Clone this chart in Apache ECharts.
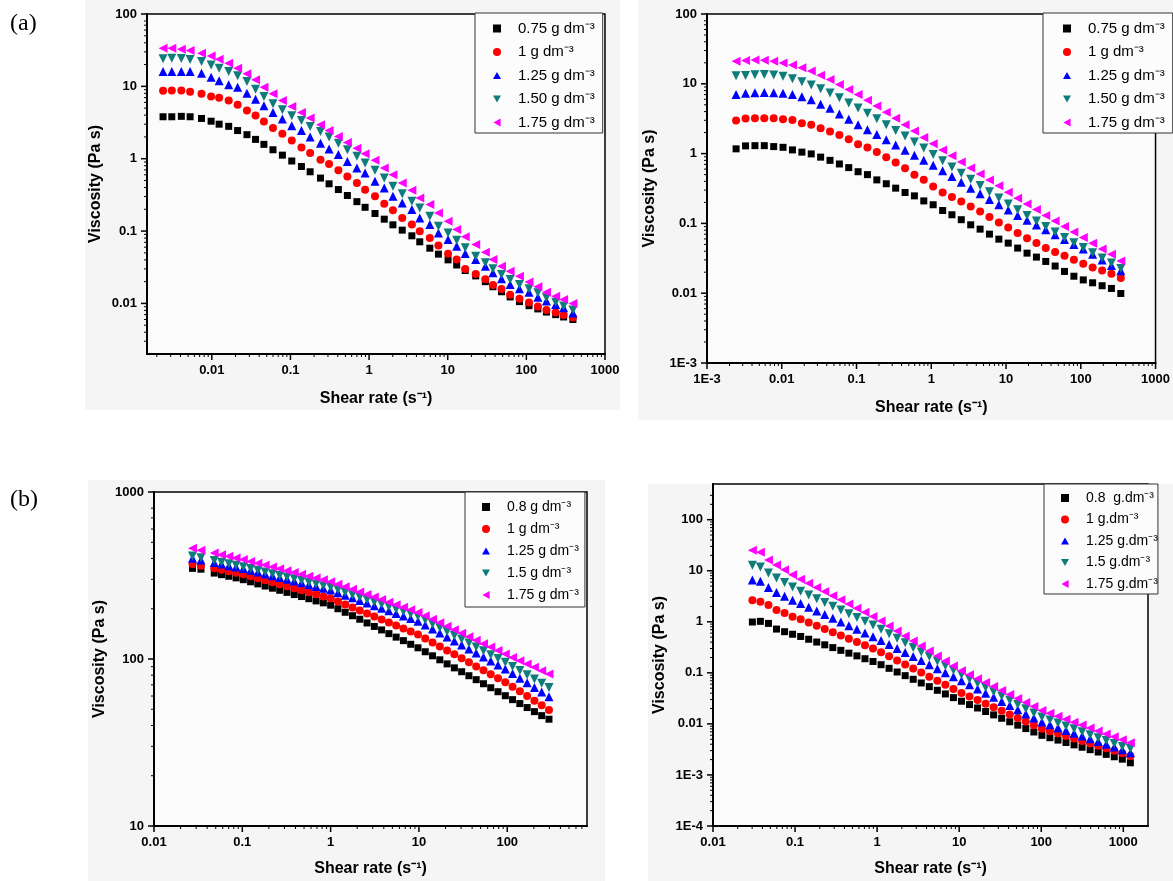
<!DOCTYPE html>
<html>
<head>
<meta charset="utf-8">
<title>Viscosity vs shear rate</title>
<script src="https://cdn.jsdelivr.net/npm/echarts@6.0.0/dist/echarts.min.js"></script>
<style>
  html, body { margin: 0; padding: 0; background: #fff; }
  #chart { width: 1173px; height: 881px; }
</style>
</head>
<body>
<div id="chart"></div>
<script>
// (a) left panel
const shearA1 = [0.0024, 0.0031, 0.0041, 0.0053, 0.0074, 0.0098, 0.0124, 0.0164, 0.0213, 0.028, 0.036, 0.046, 0.060, 0.079, 0.104, 0.138, 0.178, 0.241, 0.310, 0.407, 0.53, 0.70, 0.89, 1.19, 1.56, 2.01, 2.64, 3.50, 4.41, 5.92, 7.62, 10.1, 13.0, 16.7, 22.7, 30.1, 37.6, 48.3, 62.2, 81.7, 108, 140, 180, 236, 298, 391];
const viscA1_075 = [3.8, 3.8, 3.85, 3.8, 3.6, 3.3, 3.0, 2.8, 2.45, 2.15, 1.85, 1.58, 1.33, 1.12, 0.93, 0.78, 0.66, 0.54, 0.45, 0.375, 0.31, 0.255, 0.213, 0.175, 0.146, 0.122, 0.103, 0.086, 0.071, 0.058, 0.048, 0.040, 0.034, 0.0285, 0.024, 0.020, 0.017, 0.0145, 0.0123, 0.0106, 0.0093, 0.0084, 0.0076, 0.0070, 0.0065, 0.0060];
const viscA1_100 = [8.7, 8.75, 8.75, 8.4, 7.88, 7.25, 6.94, 6.38, 5.56, 4.64, 3.96, 3.27, 2.65, 2.21, 1.79, 1.43, 1.20, 0.969, 0.844, 0.69, 0.57, 0.461, 0.373, 0.302, 0.239, 0.194, 0.152, 0.123, 0.0995, 0.0805, 0.063, 0.0484, 0.0404, 0.030, 0.0255, 0.0215, 0.018, 0.0158, 0.0132, 0.0116, 0.0103, 0.0091, 0.0081, 0.0075, 0.0069, 0.0064];
const viscA1_125 = [16.0, 16.0, 16.0, 16.0, 15.2, 13.4, 12.0, 10.5, 9.75, 8.06, 6.66, 5.38, 4.36, 3.53, 2.85, 2.46, 1.99, 1.64, 1.36, 1.14, 0.918, 0.743, 0.634, 0.487, 0.394, 0.302, 0.245, 0.198, 0.152, 0.123, 0.0944, 0.0764, 0.0618, 0.049, 0.0404, 0.0327, 0.0265, 0.0219, 0.0183, 0.0159, 0.0143, 0.0122, 0.0108, 0.0097, 0.0087, 0.0074];
const viscA1_150 = [24.0, 24.5, 24.3, 23.5, 22.0, 19.8, 17.8, 16.0, 14.0, 11.7, 9.15, 7.25, 5.74, 4.74, 3.92, 3.38, 2.79, 2.38, 1.99, 1.64, 1.33, 1.08, 0.871, 0.69, 0.541, 0.415, 0.329, 0.258, 0.209, 0.160, 0.117, 0.0944, 0.0748, 0.0586, 0.045, 0.0364, 0.0301, 0.0251, 0.0214, 0.0183, 0.0159, 0.014, 0.012, 0.0104, 0.0092, 0.0081];
const viscA1_175 = [33.6, 33.6, 32.6, 31.2, 28.7, 26.3, 23.7, 20.9, 17.8, 14.9, 12.3, 9.75, 7.88, 6.38, 5.27, 4.36, 3.64, 2.94, 2.46, 2.03, 1.68, 1.40, 1.17, 0.949, 0.743, 0.601, 0.461, 0.366, 0.287, 0.232, 0.178, 0.137, 0.105, 0.0832, 0.0652, 0.0511, 0.0404, 0.0327, 0.0279, 0.0238, 0.0197, 0.017, 0.0143, 0.0126, 0.0113, 0.0100];

// (a) right panel
const shearA2 = [0.00245, 0.00328, 0.00438, 0.00584, 0.0078, 0.0104, 0.0139, 0.0186, 0.0248, 0.0331, 0.0442, 0.059, 0.0787, 0.105, 0.140, 0.187, 0.250, 0.334, 0.446, 0.595, 0.794, 1.06, 1.42, 1.89, 2.52, 3.37, 4.50, 6.00, 8.02, 10.7, 14.3, 19.1, 25.5, 34.0, 45.4, 60.6, 80.9, 108, 144, 193, 257, 343];
const viscA2_075 = [1.17, 1.29, 1.30, 1.30, 1.26, 1.23, 1.13, 1.05, 0.99, 0.89, 0.80, 0.71, 0.63, 0.55, 0.50, 0.42, 0.37, 0.32, 0.277, 0.248, 0.21, 0.185, 0.153, 0.133, 0.113, 0.0955, 0.0828, 0.0702, 0.0595, 0.0522, 0.0443, 0.0375, 0.0329, 0.0285, 0.0245, 0.0205, 0.0175, 0.0155, 0.0141, 0.0128, 0.0117, 0.0099];
const viscA2_100 = [2.97, 3.18, 3.21, 3.21, 3.21, 3.11, 3.04, 2.72, 2.58, 2.31, 2.07, 1.85, 1.61, 1.36, 1.22, 1.05, 0.888, 0.745, 0.618, 0.496, 0.421, 0.338, 0.277, 0.238, 0.206, 0.175, 0.148, 0.123, 0.103, 0.0874, 0.0726, 0.0615, 0.0522, 0.0443, 0.0388, 0.0344, 0.0301, 0.0264, 0.0234, 0.0212, 0.019, 0.0165];
const viscA2_125 = [7.0, 7.3, 7.45, 7.5, 7.45, 7.35, 7.0, 6.5, 5.9, 5.1, 4.45, 3.7, 3.1, 2.6, 2.2, 1.88, 1.58, 1.33, 1.12, 0.95, 0.80, 0.68, 0.57, 0.47, 0.39, 0.32, 0.265, 0.22, 0.185, 0.155, 0.13, 0.111, 0.095, 0.081, 0.069, 0.059, 0.050, 0.043, 0.036, 0.030, 0.025, 0.021];
const viscA2_150 = [13.0, 13.2, 13.5, 13.6, 13.4, 12.8, 11.8, 10.7, 9.6, 8.5, 7.4, 6.3, 5.3, 4.5, 3.8, 3.15, 2.6, 2.15, 1.78, 1.47, 1.2, 0.97, 0.79, 0.645, 0.525, 0.43, 0.35, 0.285, 0.232, 0.19, 0.157, 0.13, 0.108, 0.09, 0.075, 0.063, 0.053, 0.045, 0.038, 0.032, 0.027, 0.0225];
const viscA2_175 = [21.0, 21.5, 22.0, 21.8, 21.0, 19.8, 18.6, 17.0, 15.2, 13.3, 11.5, 9.8, 8.3, 7.0, 5.8, 4.8, 3.9, 3.2, 2.6, 2.1, 1.7, 1.38, 1.13, 0.93, 0.76, 0.62, 0.51, 0.42, 0.345, 0.28, 0.23, 0.19, 0.158, 0.13, 0.108, 0.09, 0.075, 0.063, 0.052, 0.043, 0.036, 0.029];

// (b) left panel
const shearB1 = [0.0273, 0.034, 0.0481, 0.0581, 0.0703, 0.085, 0.1027, 0.1242, 0.150, 0.1815, 0.2194, 0.2652, 0.3206, 0.3876, 0.4686, 0.5665, 0.6848, 0.8279, 1.001, 1.21, 1.463, 1.769, 2.138, 2.585, 3.125, 3.778, 4.567, 5.521, 6.675, 8.069, 9.754, 11.79, 14.26, 17.24, 20.84, 25.19, 30.45, 36.81, 44.5, 53.8, 65.0, 78.6, 95.1, 114.9, 138.9, 168.0, 203.1, 245.5, 296.8];
const viscB1_080 = [349, 345, 327, 320, 313, 306, 298.5, 290, 281.8, 273.5, 265.5, 258, 250.6, 243.2, 236.6, 229.6, 222.8, 216.8, 210, 200, 190.5, 181.6, 173, 164.4, 156.7, 149.3, 141.9, 135.2, 128.8, 122.5, 116.7, 110.5, 104.5, 98.9, 93.5, 88.5, 83.9, 79.4, 75.2, 71.1, 67.3, 63.7, 60.3, 57.1, 54.1, 51.2, 48.4, 45.8, 43.6];
const viscB1_100 = [370.7, 362, 349, 342, 335, 328, 321.6, 312.8, 304.3, 296, 287.9, 280.1, 272.3, 264.9, 257.7, 250.7, 243.8, 237.1, 230.7, 221.3, 212.3, 203.6, 195.3, 187.4, 179.8, 172.4, 165.4, 158.7, 152.2, 146.0, 140.1, 132.8, 125.7, 119, 112.6, 106.6, 100.9, 95.5, 90.3, 85.5, 80.9, 76.6, 72.5, 68.2, 64, 60, 56.3, 52.8, 49.5];
const viscB1_125 = [401, 392, 378, 370, 362, 355, 348, 339.6, 331.3, 323.2, 315.3, 307.6, 300.1, 292.8, 285.7, 278.7, 271.9, 265.3, 258.8, 249.6, 240.9, 232.4, 224.2, 216.3, 208.7, 201.4, 194.3, 187.4, 180.8, 174.5, 168.3, 159.7, 151.1, 143, 135.4, 128.1, 121.2, 114.8, 108.6, 102.8, 97.3, 92.1, 87.2, 81.9, 76.8, 72.1, 67.6, 63.4, 59.4];
const viscB1_150 = [414, 403.9, 388.3, 380.1, 372, 364, 356.2, 347.8, 339.7, 331.8, 324.2, 316.6, 309.3, 302, 295, 288.1, 281.4, 274.9, 268.5, 259.7, 251.1, 242.9, 234.9, 227.2, 219.8, 212.5, 205.6, 198.8, 192.3, 186, 179.8, 171, 162.2, 153.8, 145.9, 138.4, 131.2, 124.5, 118, 111.9, 106.2, 100.7, 95.5, 90.3, 85.2, 80.4, 75.9, 71.6, 67.6];
const viscB1_175 = [460, 448.6, 430.7, 421.3, 412, 402.9, 393.8, 384, 374.4, 365, 355.8, 346.9, 338.2, 329.7, 321.5, 313.4, 305.5, 297.8, 290.4, 280.3, 270.6, 261.2, 252.2, 243.4, 234.9, 226.8, 218.9, 211.3, 204, 196.9, 190.1, 181.5, 173, 164.9, 157.2, 149.8, 142.8, 136.1, 129.7, 123.6, 117.8, 112.3, 107.1, 102.2, 97.6, 93.2, 89.1, 85.1, 81.3];

// (b) right panel
const shearB2 = [0.0302, 0.0378, 0.0474, 0.0594, 0.0745, 0.0933, 0.117, 0.1466, 0.1837, 0.2301, 0.2884, 0.3614, 0.4529, 0.5675, 0.7112, 0.8913, 1.117, 1.400, 1.754, 2.198, 2.754, 3.451, 4.325, 5.420, 6.792, 8.511, 10.67, 13.37, 16.75, 20.99, 26.30, 32.96, 41.30, 51.76, 64.86, 81.28, 101.9, 127.6, 160.0, 200.4, 251.2, 314.8, 394.5, 494.3, 619.4, 776.2, 972.6, 1219];
const viscB2_080 = [0.99, 1.02, 0.93, 0.72, 0.64, 0.57, 0.516, 0.455, 0.401, 0.354, 0.312, 0.276, 0.243, 0.215, 0.189, 0.167, 0.1445, 0.1226, 0.1039, 0.0881, 0.0747, 0.0633, 0.0537, 0.0455, 0.0386, 0.0327, 0.0278, 0.0239, 0.0205, 0.0175, 0.0150, 0.0129, 0.0110, 0.00945, 0.0081, 0.00694, 0.00597, 0.00536, 0.00482, 0.00433, 0.00388, 0.00349, 0.00313, 0.00281, 0.00253, 0.00227, 0.00204, 0.00173];
const viscB2_100 = [2.64, 2.46, 2.13, 1.70, 1.48, 1.26, 1.124, 0.970, 0.837, 0.723, 0.624, 0.538, 0.465, 0.401, 0.346, 0.299, 0.2534, 0.2109, 0.1754, 0.146, 0.1214, 0.101, 0.0841, 0.0699, 0.0582, 0.0484, 0.0405, 0.0345, 0.0293, 0.0249, 0.0212, 0.0180, 0.0153, 0.0130, 0.0111, 0.00943, 0.00805, 0.00721, 0.00646, 0.00578, 0.00518, 0.00463, 0.00415, 0.00372, 0.00333, 0.00298, 0.00267, 0.00234];
const viscB2_125 = [6.6, 6.2, 4.7, 3.75, 3.15, 2.65, 2.28, 1.93, 1.635, 1.384, 1.172, 0.993, 0.840, 0.712, 0.603, 0.510, 0.429, 0.358, 0.2987, 0.2493, 0.2080, 0.1736, 0.1448, 0.1209, 0.1009, 0.0842, 0.0701, 0.0582, 0.0482, 0.0400, 0.0332, 0.0275, 0.0228, 0.0189, 0.0157, 0.0130, 0.01085, 0.00958, 0.00845, 0.00746, 0.00658, 0.00581, 0.00513, 0.00452, 0.00399, 0.00352, 0.00311, 0.00272];
const viscB2_150 = [12.8, 11.9, 9.0, 7.2, 5.9, 4.8, 3.97, 3.35, 2.83, 2.39, 2.02, 1.70, 1.44, 1.215, 1.026, 0.866, 0.718, 0.584, 0.475, 0.387, 0.315, 0.256, 0.2084, 0.1695, 0.1379, 0.1122, 0.0917, 0.0757, 0.0625, 0.0516, 0.0426, 0.0352, 0.0291, 0.0240, 0.0198, 0.0164, 0.0136, 0.0119, 0.01043, 0.00913, 0.0080, 0.00701, 0.00614, 0.00538, 0.00471, 0.00413, 0.00362, 0.00331];
const viscB2_175 = [25.1, 23.0, 16.2, 12.9, 10.4, 8.32, 6.83, 5.67, 4.70, 3.90, 3.24, 2.69, 2.23, 1.85, 1.53, 1.27, 1.035, 0.827, 0.660, 0.527, 0.421, 0.336, 0.268, 0.214, 0.171, 0.1364, 0.1103, 0.0922, 0.0770, 0.0644, 0.0538, 0.0449, 0.0375, 0.0314, 0.0262, 0.0219, 0.0184, 0.0161, 0.0141, 0.01235, 0.01082, 0.00948, 0.0083, 0.00727, 0.00637, 0.00558, 0.00489, 0.00427];

const namesA = ["0.75 g dm\u207B\u00B3", "1 g dm\u207B\u00B3", "1.25 g dm\u207B\u00B3", "1.50 g dm\u207B\u00B3", "1.75 g dm\u207B\u00B3"];
const namesB1 = ["0.8 g dm\u207B\u00B3", "1 g dm\u207B\u00B3", "1.25 g dm\u207B\u00B3", "1.5 g dm\u207B\u00B3", "1.75 g dm\u207B\u00B3"];
const namesB2 = ["0.8  g.dm\u207B\u00B3", "1 g.dm\u207B\u00B3", "1.25 g.dm\u207B\u00B3", "1.5 g.dm\u207B\u00B3", "1.75 g.dm\u207B\u00B3"];

const font = "'Liberation Sans', Arial, sans-serif";
// path symbols so the legend keeps the down / left pointing triangles
const markers = [
  { color: "#000000", symbol: "rect", size: 7 },
  { color: "#ff0000", symbol: "circle", size: 8 },
  { color: "#0000ff", symbol: "path://M5,0L10,9L0,9Z", size: 9 },
  { color: "#0e7c7b", symbol: "path://M0,0L10,0L5,9Z", size: 9 },
  { color: "#ff00ff", symbol: "path://M9,0L9,10L0,5Z", size: 9 },
];

const panels = [
  { shear: shearA1, visc: [viscA1_075, viscA1_100, viscA1_125, viscA1_150, viscA1_175], names: namesA },
  { shear: shearA2, visc: [viscA2_075, viscA2_100, viscA2_125, viscA2_150, viscA2_175], names: namesA },
  { shear: shearB1, visc: [viscB1_080, viscB1_100, viscB1_125, viscB1_150, viscB1_175], names: namesB1 },
  { shear: shearB2, visc: [viscB2_080, viscB2_100, viscB2_125, viscB2_150, viscB2_175], names: namesB2 },
];

function decades(lo, hi) {
  const out = [];
  for (let e = lo; e <= hi; e++) out.push(Number("1e" + e));
  return out;
}

// 2..9 x 10^e inside [min, max]
function minorValues(min, max, lo, hi) {
  const out = [];
  for (let e = lo - 1; e <= hi; e++) {
    for (let k = 2; k <= 9; k++) {
      const v = Number(k + "e" + e);
      if (v > min && v < max) out.push(v);
    }
  }
  return out;
}

const isDecade = (v) => Math.abs(Math.log10(v) - Math.round(Math.log10(v))) < 1e-6;

function fmt(v) {
  return v < 0.01 ? "1E" + Math.round(Math.log10(v)) : String(v);
}

function logAxis(gridIndex, min, max, lo, hi, name, nameGap) {
  return {
    type: "log",
    logBase: 10,
    gridIndex,
    min,
    max,
    name,
    nameGap,
    nameLocation: "middle",
    nameTextStyle: { fontFamily: font, fontWeight: "bold", fontSize: 16, color: "#000" },
    axisLine: { show: true, lineStyle: { color: "#000", width: 2 } },
    axisTick: { show: false },
    minorTick: { show: false },
    axisLabel: {
      customValues: decades(lo, hi),
      formatter: fmt,
      fontFamily: font,
      fontWeight: "bold",
      fontSize: 13,
      color: "#000",
      margin: 10,
    },
    splitLine: { show: false },
  };
}

// twin axis whose labels are small black bars: the long decade ticks and
// the short 2..9 ticks of a log scale
function tickAxis(gridIndex, min, max, lo, hi, dim) {
  const horizontal = dim === "x";
  const values = decades(lo, hi).concat(minorValues(min, max, lo, hi));
  const bar = (len, w) => (horizontal
    ? { width: w, height: len, backgroundColor: "#000" }
    : { width: len, height: w, backgroundColor: "#000" });
  return {
    type: "log",
    logBase: 10,
    gridIndex,
    min,
    max,
    position: horizontal ? "bottom" : "left",
    axisLine: { show: false },
    axisTick: { show: false },
    splitLine: { show: false },
    axisLabel: {
      customValues: values,
      margin: 0,
      formatter: (v) => (isDecade(v) ? "{M|}" : "{m|}"),
      rich: { M: bar(6, 1.5), m: bar(3, 1) },
    },
  };
}

function legendBox(names, left, top, padding, gap, size) {
  return {
    data: names,
    orient: "vertical",
    left,
    top,
    padding,
    itemGap: gap,
    itemWidth: 8,
    itemHeight: 8,
    borderColor: "#333",
    borderWidth: 1,
    backgroundColor: "#fcfcfc",
    textStyle: { fontFamily: font, fontSize: size, color: "#000", padding: [0, 0, 0, 12] },
  };
}

const gridBase = { show: true, borderColor: "#000", borderWidth: 1.5, backgroundColor: "#fbfbfb" };
const shearName = "Shear rate (s\u207B\u00B9)";
const viscName = "Viscosity (Pa s)";

const xRanges = [[0.0015, 1000, -2, 3, 37], [0.001, 1000, -3, 3, 37], [0.01, 800, -2, 2, 35], [0.01, 2000, -2, 3, 35]];
const yRanges = [[0.002, 100, -2, 2, 43], [0.001, 100, -3, 2, 49], [10, 1000, 1, 3, 46], [0.0001, 500, -4, 2, 45]];

const xAxis = xRanges.map(([mn, mx, lo, hi, gap], gi) => logAxis(gi, mn, mx, lo, hi, shearName, gap))
  .concat(xRanges.map(([mn, mx, lo, hi], gi) => tickAxis(gi, mn, mx, lo, hi, "x")));
const yAxis = yRanges.map(([mn, mx, lo, hi, gap], gi) => logAxis(gi, mn, mx, lo, hi, viscName, gap))
  .concat(yRanges.map(([mn, mx, lo, hi], gi) => tickAxis(gi, mn, mx, lo, hi, "y")));

const series = [];
panels.forEach((p, gi) => {
  p.visc.forEach((ys, si) => {
    const m = markers[si];
    series.push({
      type: "scatter",
      name: p.names[si],
      xAxisIndex: gi,
      yAxisIndex: gi,
      symbol: m.symbol,
      symbolSize: m.size,
      itemStyle: { color: m.color, opacity: 1 },
      data: p.shear.map((x, i) => [x, ys[i]]),
    });
  });
});

const panelBg = [
  [85, 0, 535, 410],
  [638, 0, 535, 420],
  [88, 480, 517, 401],
  [648, 484, 525, 397],
];

const option = {
  animation: false,
  backgroundColor: "#ffffff",
  grid: [
    { ...gridBase, left: 147, top: 14, width: 458, height: 340 },
    { ...gridBase, left: 707, top: 14, width: 496, height: 349 },
    { ...gridBase, left: 154, top: 492, width: 433, height: 334 },
    { ...gridBase, left: 713, top: 484, width: 435, height: 342 },
  ],
  xAxis,
  yAxis,
  legend: [
    legendBox(namesA, 475, 13, [8, 8, 3, 18], 8.5, 15),
    legendBox(namesA, 1043, 13, [8, 8, 3, 20], 8.5, 15),
    legendBox(namesB1, 465, 492, [8, 6, 5, 17], 8, 14),
    legendBox(namesB2, 1044, 484, [7, 0, 3, 17], 7.5, 14),
  ],
  graphic: {
    elements: panelBg
      .map(([x, y, w, h]) => ({
        type: "rect",
        z: -100,
        silent: true,
        shape: { x, y, width: w, height: h },
        style: { fill: "#f5f5f5" },
      }))
      .concat([
        { type: "text", left: 10, top: 12, style: { text: "(a)", font: "24px 'Liberation Serif', 'Times New Roman', serif", fill: "#000" } },
        { type: "text", left: 10, top: 488, style: { text: "(b)", font: "24px 'Liberation Serif', 'Times New Roman', serif", fill: "#000" } },
      ]),
  },
  series,
};

echarts.init(document.getElementById("chart")).setOption(option);
</script>
</body>
</html>
